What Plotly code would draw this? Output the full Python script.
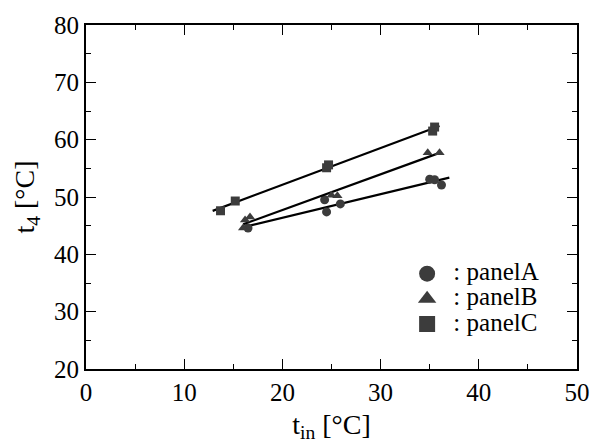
import numpy as np
import plotly.graph_objects as go

# Data
a_x = [16.5, 24.3, 24.5, 25.9, 35.0, 35.5, 36.2]
a_y = [44.6, 49.5, 47.4, 48.8, 53.1, 53.0, 52.1]
b_x = [16.0, 16.2, 16.7, 25.0, 25.6, 34.8, 36.0]
b_y = [44.6, 46.0, 46.5, 50.3, 50.2, 57.7, 57.7]
c_x = [13.7, 15.2, 24.5, 24.7, 35.3, 35.5]
c_y = [47.6, 49.3, 55.1, 55.6, 61.5, 62.2]

line_a_range = [16.0, 37.0]
line_b_range = [16.0, 36.0]
line_c_range = [12.9, 36.0]

series = [
    ("panelA", a_x, a_y, line_a_range, "circle"),
    ("panelB", b_x, b_y, line_b_range, "triangle-up"),
    ("panelC", c_x, c_y, line_c_range, "square"),
]

mk_color = "#3c3c3c"
font_family = "Liberation Serif, Times New Roman, serif"

fig = go.Figure()
for name, xs, ys, xr, sym in series:
    k, b = np.polyfit(xs, ys, 1)
    lx = np.array(xr)
    fig.add_trace(go.Scatter(x=lx, y=k * lx + b, mode="lines",
                             line=dict(color="black", width=2.2),
                             showlegend=False, hoverinfo="skip"))
    fig.add_trace(go.Scatter(x=xs, y=ys, mode="markers", name=name,
                             marker=dict(symbol=sym, size=9, color=mk_color),
                             showlegend=False, legendgroup=name))
for name, xs, ys, xr, sym in series:
    fig.add_trace(go.Scatter(x=[None], y=[None], mode="markers",
                             name='<span style="font-size:25px"> : ' + name + '</span>',
                             legendgroup=name,
                             marker=dict(symbol=sym, size=16, color=mk_color)))

axis_common = dict(
    showline=True, linecolor="black", linewidth=2, mirror="allticks",
    ticks="inside", ticklen=10, tickwidth=1.2, tickcolor="black",
    showgrid=False, zeroline=False, automargin=False,
    tickfont=dict(family=font_family, size=25, color="black"),
)

fig.update_xaxes(range=[0, 50], dtick=10, **axis_common,
                 minor=dict(ticks="inside", ticklen=5, dtick=5, tickcolor="black"),
                 title=dict(text="t<sub>in</sub> [°C]",
                            font=dict(family=font_family, size=28, color="black"),
                            standoff=9))
fig.update_yaxes(range=[20, 80], dtick=10, **axis_common,
                 minor=dict(ticks="inside", ticklen=5, dtick=5, tickcolor="black"),
                 title=dict(text="t<sub>4</sub> [°C]",
                            font=dict(family=font_family, size=28, color="black"),
                            standoff=11))

fig.update_layout(
    width=603, height=442,
    margin=dict(l=78, r=34, t=17, b=81),
    plot_bgcolor="white", paper_bgcolor="white",
    legend=dict(x=0.654, y=0.203, xanchor="left", yanchor="middle",
                font=dict(family=font_family, size=17, color="black"),
                bgcolor="rgba(0,0,0,0)", itemwidth=30, tracegroupgap=0),
)

fig.write_html("out.html")
